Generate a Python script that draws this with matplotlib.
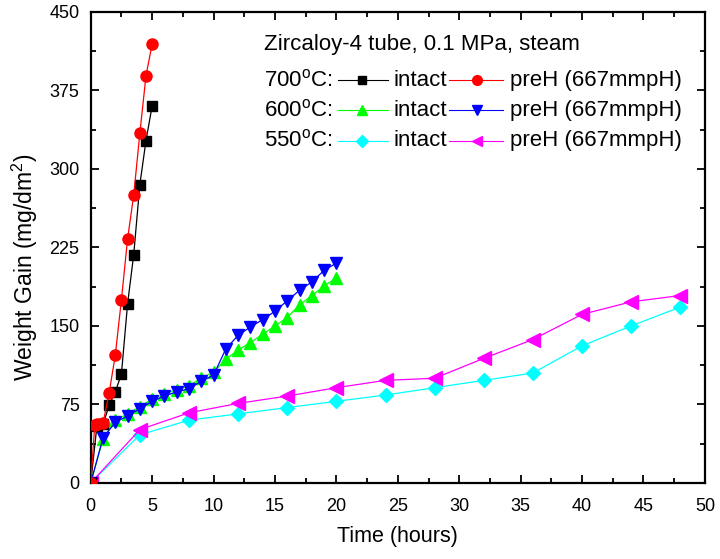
import numpy as np
import matplotlib
matplotlib.use("Agg")
import matplotlib.pyplot as plt
from matplotlib.ticker import MultipleLocator

plt.rcParams['font.family'] = ['Liberation Sans', 'DejaVu Sans']
plt.rcParams['mathtext.fontset'] = 'custom'
plt.rcParams['mathtext.rm'] = 'Liberation Sans'
plt.rcParams['mathtext.it'] = 'Liberation Sans'

# 700 C
t700_intact = [0, 0.5, 1, 1.5, 2, 2.5, 3, 3.5, 4, 4.5, 5]
w700_intact = [0, 54, 56, 74, 87, 104, 171, 218, 285, 327, 360]
t700_preh = [0, 0.33, 0.5, 1, 1.5, 2, 2.5, 3, 3.5, 4, 4.5, 5]
w700_preh = [0, 55, 56, 57, 86, 122, 175, 233, 275, 334, 389, 419]

# 600 C
t600 = [0, 1, 2, 3, 4, 5, 6, 7, 8, 9, 10, 11, 12, 13, 14, 15, 16, 17, 18, 19, 20]
w600_intact = [0, 42, 60, 66, 73, 80, 85, 89, 93, 100, 106, 118, 127, 134, 142, 150, 158, 170, 179, 188, 196]
w600_preh = [0, 43, 58, 64, 71, 78, 83, 87, 90, 97, 103, 128, 141, 149, 156, 164, 174, 184, 192, 203, 210]

# 550 C
t550 = [0, 4, 8, 12, 16, 20, 24, 28, 32, 36, 40, 44, 48]
w550_intact = [0, 46, 60, 66, 72, 78, 84, 91, 98, 105, 131, 150, 168]
w550_preh = [0, 51, 67, 76, 83, 91, 98, 100, 119, 137, 161, 173, 179]

fig = plt.figure(figsize=(7.2, 5.59), dpi=100)
ax = fig.add_axes([0.126, 0.136, 0.853, 0.843])

lw = 0.9
ax.plot(t550, w550_intact, color='#00FFFF', lw=lw, marker='D', ms=7, zorder=2)
ax.plot(t550, w550_preh, color='#FF00FF', lw=lw, marker='<', ms=9.5, zorder=2)
ax.plot(t600, w600_intact, color='#00FF00', lw=lw, marker='^', ms=9, zorder=3)
ax.plot(t600, w600_preh, color='#0000FF', lw=lw, marker='v', ms=9, zorder=3)
ax.plot(t700_intact, w700_intact, color='black', lw=lw, marker='s', ms=7, zorder=4)
ax.plot(t700_preh, w700_preh, color='#FF0000', lw=lw, marker='o', ms=8, zorder=5)

ax.set_xlim(0, 50)
ax.set_ylim(0, 450)
ax.xaxis.set_major_locator(MultipleLocator(5))
ax.xaxis.set_minor_locator(MultipleLocator(2.5))
ax.yaxis.set_major_locator(MultipleLocator(75))
ax.yaxis.set_minor_locator(MultipleLocator(37.5))
ax.tick_params(which='both', direction='in', top=True, right=True, width=1.3, labelsize=13)
ax.tick_params(which='major', length=6)
ax.tick_params(which='minor', length=3.5)
ax.tick_params(axis='x', pad=11)
ax.tick_params(axis='y', pad=8)
for s in ax.spines.values():
    s.set_linewidth(1.6)

ax.set_xlabel('Time (hours)', fontsize=15.5, labelpad=8)
ax.set_ylabel('Weight Gain (mg/dm$^2$)', fontsize=16.5)
ax.yaxis.set_label_coords(-0.083, 0.459)

# legend drawn by hand, in axes fraction
def fx(px):
    return (px - 91) / 614.0

def fy(py):
    return (483 - py) / 471.0

fs = 16
ax.text(fx(264), fy(45), 'Zircaloy-4 tube, 0.1 MPa, steam', transform=ax.transAxes,
        fontsize=fs, va='center', ha='left')

rows = [
    ('700$^{\\mathrm{o}}$C:', 80.7, ('black', 's', 6), ('#FF0000', 'o', 7)),
    ('600$^{\\mathrm{o}}$C:', 110.7, ('#00FF00', '^', 7), ('#0000FF', 'v', 7)),
    ('550$^{\\mathrm{o}}$C:', 140.7, ('#00FFFF', 'D', 6), ('#FF00FF', '<', 7)),
]
for label, py, h1, h2 in rows:
    y = fy(py)
    ax.text(fx(264), y, label, transform=ax.transAxes, fontsize=fs, va='center', ha='left')
    ax.plot([fx(338), fx(388)], [y, y], color=h1[0], lw=0.8, transform=ax.transAxes, clip_on=False)
    ax.plot([fx(362.5)], [y], color=h1[0], marker=h1[1], ms=h1[2], transform=ax.transAxes, clip_on=False)
    ax.text(fx(394), y, 'intact', transform=ax.transAxes, fontsize=fs, va='center', ha='left')
    ax.plot([fx(449), fx(503)], [y, y], color=h2[0], lw=0.8, transform=ax.transAxes, clip_on=False)
    ax.plot([fx(477.5)], [y], color=h2[0], marker=h2[1], ms=h2[2], transform=ax.transAxes, clip_on=False)
    ax.text(fx(510), y, 'preH (667mmpH)', transform=ax.transAxes, fontsize=fs, va='center', ha='left')

fig.savefig('out.png', dpi=100)
